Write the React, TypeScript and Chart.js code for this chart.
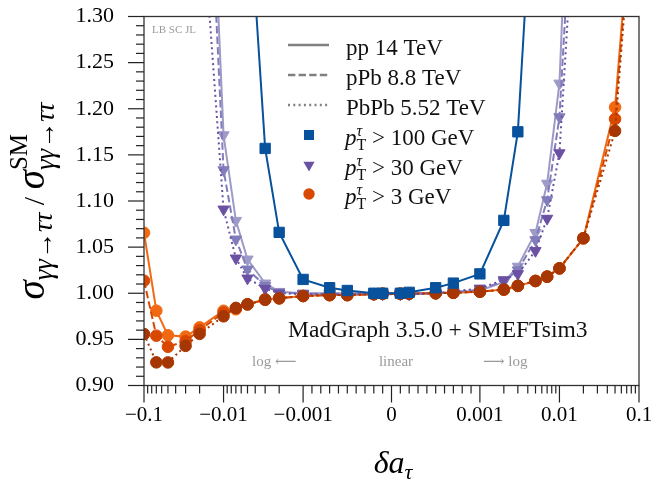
import React, { useEffect, useRef } from 'react';
import { Chart, registerables } from 'chart.js';

Chart.register(...registerables);

// ---------------- data ----------------
const deltaA = [
  -0.1, -0.07, -0.05, -0.03, -0.02, -0.01, -0.007, -0.005, -0.003, -0.002, -0.001, -0.0007, -0.0005, -0.0002, -0.0001,
  0.0001, 0.0002, 0.0005, 0.0007, 0.001, 0.002, 0.003, 0.005, 0.007, 0.01, 0.02, 0.05, 0.07, 0.1,
];

const ppPt100 = [null, null, null, null, null, null, null, 1.45, 1.157, 1.066, 1.015, 1.006, 1.003, 1.0, 1.0,
  1.0, 1.001, 1.006, 1.011, 1.021, 1.079, 1.175, 1.5, null, null, null, null, null, null];

const ppPt30 = [null, null, null, null, 1.77, 1.1715, 1.0787, 1.0368, 1.0108, 1.0017, 1.0, 1.0, 1.0, 1.0, 1.0,
  1.0, 1.0, 1.0, 1.001, 1.003, 1.012, 1.029, 1.0656, 1.119, 1.2275, 1.86, null, null, null];
const pPbPt30 = [null, null, null, null, 1.68, 1.1336, 1.0585, 1.026, 1.008, 1.001, 0.9995, 0.9995, 0.9995, 0.9995, 0.9995,
  0.9995, 0.9995, 1.0, 1.001, 1.004, 1.013, 1.025, 1.0577, 1.101, 1.191, 1.65, null, null, null];
const PbPbPt30 = [null, null, null, null, 1.45, 1.091, 1.0379, 1.0162, 1.005, 1.0, 0.999, 0.999, 0.999, 0.999, 0.999,
  0.999, 0.999, 1.0, 1.002, 1.0053, 1.0144, 1.021, 1.046, 1.081, 1.152, 1.577, null, null, null];

const ppPt3 = [1.0656, 0.9811, 0.9544, 0.953, 0.963, 0.981, 0.9826, 0.988, 0.9935, 0.9946, 0.997, 0.998, 0.998, 0.999, 0.9995,
  0.9995, 0.9995, 1.0, 1.0005, 1.0017, 1.004, 1.008, 1.0133, 1.018, 1.027, 1.0596, 1.2016, 1.357, 1.7];
const pPbPt3 = [1.0136, 0.954, 0.942, 0.948, 0.96, 0.979, 0.984, 0.988, 0.993, 0.9945, 0.997, 0.998, 0.998, 0.999, 0.9995,
  0.9995, 0.9995, 1.0, 1.0005, 1.0017, 1.004, 1.008, 1.0133, 1.018, 1.027, 1.0596, 1.189, 1.348, 1.68];
const PbPbPt3 = [0.9558, 0.9251, 0.925, 0.943, 0.956, 0.975, 0.984, 0.988, 0.993, 0.9945, 0.997, 0.998, 0.998, 0.999, 0.9995,
  0.9995, 0.9995, 1.0, 1.0005, 1.0017, 1.004, 1.008, 1.0133, 1.018, 1.027, 1.0596, 1.176, 1.338, 1.65];

const xTickValues = [-0.1, -0.01, -0.001, 0, 0.001, 0.01, 0.1];
const xTickLabels = ['\u22120.1', '\u22120.01', '\u22120.001', '0', '0.001', '0.01', '0.1'];
const yTickValues = [0.9, 0.95, 1.0, 1.05, 1.1, 1.15, 1.2, 1.25, 1.3];
const legendLines = ['pp 14 TeV', 'pPb 8.8 TeV', 'PbPb 5.52 TeV'];
const legendCuts = ['100', '30', '3'];

// ---------------- symlog transform (matplotlib symlog, linthresh 1e-3, linscale 1) ----------------
const LINTHRESH = 0.001;
const LINSCALE = 1 / (1 - 1 / 10);
function symlog(v: number): number {
  const a = Math.abs(v);
  if (a <= LINTHRESH) return (v / LINTHRESH) * LINSCALE;
  return Math.sign(v) * (LINSCALE + Math.log10(a / LINTHRESH));
}

const SERIF = "'Liberation Serif', 'DejaVu Serif', serif";
const BLUE = '#08519c';
const PUR_L = '#9e9ac8';
const PUR_M = '#807dba';
const PUR_D = '#6a51a3';
const OR_L = '#f16913';
const OR_M = '#d94801';
const OR_D = '#a63603';
const DASH = [7.4, 3.2];
const DOT = [2, 3.3];

function pts(vals: (number | null)[]) {
  const out: { x: number; y: number }[] = [];
  deltaA.forEach((x, i) => {
    const v = vals[i];
    if (v !== null && v !== undefined) out.push({ x: symlog(x), y: v });
  });
  return out;
}

function ds(vals: (number | null)[], color: string, dash: number[], style: string, radius: number, order: number) {
  return {
    data: pts(vals),
    borderColor: color,
    backgroundColor: color,
    pointBackgroundColor: color,
    pointBorderColor: color,
    pointBorderWidth: 1,
    borderWidth: 2,
    borderDash: dash,
    pointStyle: style,
    pointRadius: radius,
    pointRotation: style === 'triangle' ? 180 : 0,
    tension: 0,
    clip: 0,
    order,
  };
}

type Run = { t?: string; f?: string; dy?: number; stack?: Run[] };
function runWidth(ctx: CanvasRenderingContext2D, r: Run): number {
  if (r.stack) return Math.max(...r.stack.map((s) => runWidth(ctx, s)));
  ctx.font = r.f!;
  return ctx.measureText(r.t!).width;
}
function runsWidth(ctx: CanvasRenderingContext2D, runs: Run[]) {
  return runs.reduce((a, r) => a + runWidth(ctx, r), 0);
}
function drawRuns(ctx: CanvasRenderingContext2D, runs: Run[], x: number, y: number) {
  let cx = x;
  for (const r of runs) {
    const list = r.stack ? r.stack : [r];
    for (const s of list) {
      ctx.font = s.f!;
      ctx.fillText(s.t!, cx, y + (s.dy || 0));
    }
    cx += runWidth(ctx, r);
  }
}

const decorPlugin = {
  id: 'decor',
  afterDraw(chart: any) {
    const ctx: CanvasRenderingContext2D = chart.ctx;
    const { left, right, top, bottom } = chart.chartArea;
    const xs = chart.scales.x;
    const ys = chart.scales.y;
    ctx.save();
    // frame
    ctx.strokeStyle = '#333';
    ctx.lineWidth = 1.3;
    ctx.strokeRect(left, top, right - left, bottom - top);
    // ticks
    ctx.strokeStyle = '#222';
    ctx.lineWidth = 1.2;
    const tick = (x1: number, y1: number, x2: number, y2: number) => {
      ctx.beginPath();
      ctx.moveTo(x1, y1);
      ctx.lineTo(x2, y2);
      ctx.stroke();
    };
    xTickValues.forEach((v) => {
      const p = xs.getPixelForValue(symlog(v));
      tick(p, bottom, p, bottom + 17);
    });
    const minorX: number[] = [];
    for (let i = 1; i <= 9; i++) minorX.push(i * 0.0001, -i * 0.0001);
    [0.001, 0.01].forEach((d) => {
      for (let m = 2; m <= 9; m++) minorX.push(m * d, -m * d);
    });
    minorX.forEach((v) => {
      const p = xs.getPixelForValue(symlog(v));
      tick(p, bottom, p, bottom + 8);
    });
    yTickValues.forEach((v) => {
      const p = ys.getPixelForValue(v);
      tick(left - 16, p, left, p);
    });
    for (let k = 0; k <= 40; k++) {
      if (k % 5 === 0) continue;
      const p = ys.getPixelForValue(0.9 + k * 0.01);
      tick(left - 8, p, left, p);
    }

    ctx.textAlign = 'left';
    ctx.textBaseline = 'alphabetic';

    // legend
    const rowY = [45, 75, 105, 135, 165, 194];
    const dashes = [[], DASH, DOT];
    ctx.strokeStyle = '#808080';
    ctx.lineWidth = 2.5;
    for (let i = 0; i < 3; i++) {
      ctx.setLineDash(dashes[i]);
      tick(288, rowY[i], 329, rowY[i]);
    }
    ctx.setLineDash([]);
    // markers
    ctx.fillStyle = BLUE;
    ctx.fillRect(309 - 5, rowY[3] - 5, 10, 10);
    ctx.fillStyle = PUR_D;
    ctx.beginPath();
    ctx.moveTo(309 - 5.6, rowY[4] - 3.2);
    ctx.lineTo(309 + 5.6, rowY[4] - 3.2);
    ctx.lineTo(309, rowY[4] + 6.4);
    ctx.closePath();
    ctx.fill();
    ctx.fillStyle = OR_M;
    ctx.beginPath();
    ctx.arc(309, rowY[5], 5.7, 0, Math.PI * 2);
    ctx.fill();

    ctx.fillStyle = '#111';
    const LF = `23px ${SERIF}`;
    for (let i = 0; i < 3; i++) {
      ctx.font = LF;
      ctx.fillText(legendLines[i], 346, rowY[i] + 10);
    }
    for (let i = 0; i < 3; i++) {
      drawRuns(ctx, [
        { t: 'p', f: `italic 23px ${SERIF}` },
        { stack: [{ t: '\u03c4', f: `italic 16px ${SERIF}`, dy: -9 }, { t: 'T', f: `16px ${SERIF}`, dy: 5 }] },
        { t: ` > ${legendCuts[i]} GeV`, f: LF },
      ], 345, rowY[i + 3] + 10);
    }

    // annotations
    ctx.font = `23.5px ${SERIF}`;
    ctx.fillText('MadGraph 3.5.0 + SMEFTsim3', 288, 337);
    ctx.fillStyle = '#9a9a9a';
    ctx.font = `15px ${SERIF}`;
    ctx.textAlign = 'left';
    ctx.fillText('log \u27f5', 252, 366);
    ctx.textAlign = 'center';
    ctx.fillText('linear', 396, 366);
    ctx.textAlign = 'left';
    ctx.fillText('\u27f6 log', 483, 366);
    ctx.font = `11px ${SERIF}`;
    ctx.fillText('LB SC JL', 152, 33);

    // x title
    ctx.fillStyle = '#000';
    const xRuns: Run[] = [
      { t: '\u03b4a', f: `italic 32px ${SERIF}` },
      { t: '\u03c4', f: `italic 22px ${SERIF}`, dy: 6 },
    ];
    const xw = runsWidth(ctx, xRuns);
    ctx.textAlign = 'left';
    drawRuns(ctx, xRuns, 393 - xw / 2, 473);

    // y title
    const yRuns: Run[] = [
      { t: '\u03c3', f: `italic 39px ${SERIF}` },
      { t: '\u03b3\u03b3\u2192\u03c4\u03c4', f: `italic 27px ${SERIF}`, dy: 8 },
      { t: ' / ', f: `30px ${SERIF}` },
      { t: '\u03c3', f: `italic 39px ${SERIF}` },
      { stack: [{ t: 'SM', f: `25px ${SERIF}`, dy: -17 }, { t: '\u03b3\u03b3\u2192\u03c4\u03c4', f: `italic 27px ${SERIF}`, dy: 10 }] },
    ];
    const yw = runsWidth(ctx, yRuns);
    ctx.translate(44, 201);
    ctx.rotate(-Math.PI / 2);
    drawRuns(ctx, yRuns, -yw / 2, 0);
    ctx.restore();
  },
};

function zeroPad(s: any) {
  s.paddingTop = 0;
  s.paddingBottom = 0;
  s.paddingLeft = 0;
  s.paddingRight = 0;
}

export default function App() {
  const ref = useRef<HTMLCanvasElement>(null);
  useEffect(() => {
    const chart = new Chart(ref.current!, {
      type: 'line',
      data: {
        datasets: [
          ds(ppPt100, BLUE, [], 'rect', 7.3, 0),
          ds(PbPbPt3, OR_D, DOT, 'circle', 5.8, 1),
          ds(PbPbPt30, PUR_D, DOT, 'triangle', 6.5, 2),
          ds(pPbPt3, OR_M, DASH, 'circle', 5.8, 3),
          ds(pPbPt30, PUR_M, DASH, 'triangle', 6.5, 4),
          ds(ppPt3, OR_L, [], 'circle', 5.8, 5),
          ds(ppPt30, PUR_L, [], 'triangle', 6.5, 6),
        ] as any,
      },
      options: {
        responsive: false,
        animation: false,
        events: [],
        layout: { padding: { top: 16.5, right: 14, left: 0, bottom: 0 } },
        plugins: { legend: { display: false }, tooltip: { enabled: false } },
        scales: {
          x: {
            type: 'linear',
            min: symlog(-0.1),
            max: symlog(0.1),
            grid: { display: false, drawTicks: false },
            border: { display: false },
            afterBuildTicks: (s: any) => {
              s.ticks = xTickValues.map((v) => ({ value: symlog(v) }));
            },
            afterFit: (s: any) => {
              s.height = 99.5;
              zeroPad(s);
            },
            ticks: {
              padding: 17,
              color: '#000',
              maxRotation: 0,
              autoSkip: false,
              font: { size: 21, family: SERIF },
              callback: (val: any) => {
                const i = xTickValues.findIndex((v) => Math.abs(symlog(v) - Number(val)) < 1e-6);
                return i >= 0 ? xTickLabels[i] : '';
              },
            },
          },
          y: {
            type: 'linear',
            min: 0.9,
            max: 1.3,
            grid: { display: false, drawTicks: false },
            border: { display: false },
            afterBuildTicks: (s: any) => {
              s.ticks = yTickValues.map((v) => ({ value: v }));
            },
            afterFit: (s: any) => {
              s.width = 144;
              zeroPad(s);
            },
            ticks: {
              padding: 30,
              color: '#000',
              font: { size: 22, family: SERIF },
              callback: (val: any) => Number(val).toFixed(2),
            },
          },
        },
      } as any,
      plugins: [decorPlugin],
    });
    return () => chart.destroy();
  }, []);
  return (
    <div style={{ position: 'fixed', left: 0, top: 0, width: 653, height: 485, background: '#fff' }}>
      <canvas ref={ref} width={653} height={485} style={{ display: 'block' }} />
    </div>
  );
}
